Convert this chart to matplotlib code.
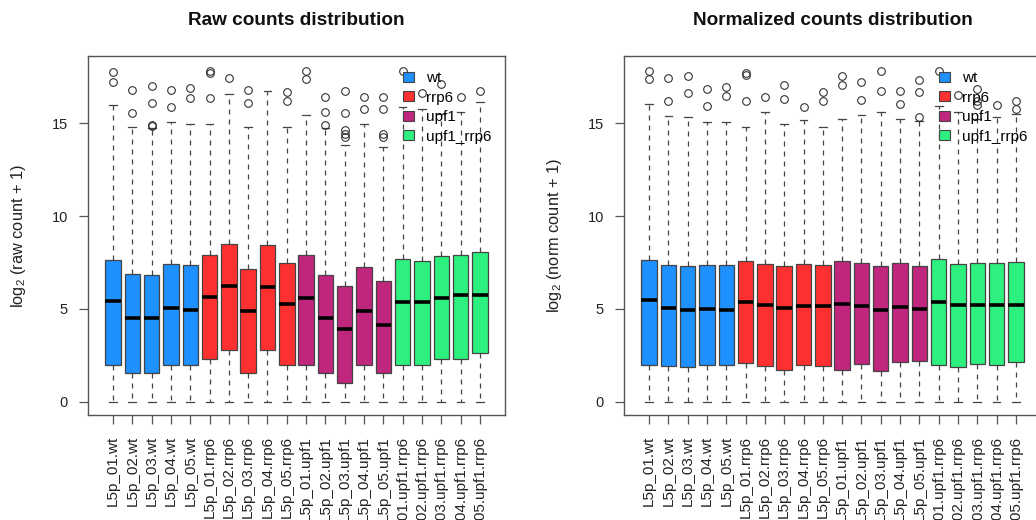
import matplotlib
matplotlib.use("Agg")
import matplotlib.pyplot as plt
from matplotlib.patches import Patch

plt.rcParams['font.family'] = ['Liberation Sans', 'DejaVu Sans']
plt.rcParams['mathtext.fontset'] = 'custom'
plt.rcParams['mathtext.rm'] = 'Liberation Sans'
plt.rcParams['mathtext.it'] = 'Liberation Sans:italic'

# sample layout: 5 replicates per condition
conditions = ['wt', 'rrp6', 'upf1', 'upf1_rrp6']
cond_colors = ['#1E90FF', '#FF3030', '#C0267E', '#2EF07F']
reps = ['01', '02', '03', '04', '05']
sample_names = ([f'L5p_{r}.wt' for r in reps] + [f'L5p_{r}.rrp6' for r in reps]
                + [f'L5p_{r}.upf1' for r in reps] + [f'L5p_{r}.upf1.rrp6' for r in reps])

# raw counts, log2(x + 1)
raw_q1 = [2.0, 1.56, 1.56, 2.0, 2.0, 2.29, 2.78, 1.56, 2.78, 2.0,
          2.0, 1.56, 0.99, 2.0, 1.56, 2.0, 2.0, 2.29, 2.29, 2.6]
raw_med = [5.43, 4.52, 4.52, 5.05, 4.95, 5.63, 6.25, 4.89, 6.18, 5.27,
           5.61, 4.52, 3.89, 4.89, 4.14, 5.38, 5.38, 5.61, 5.72, 5.77]
raw_q3 = [7.62, 6.86, 6.83, 7.4, 7.35, 7.9, 8.51, 7.15, 8.42, 7.49,
          7.9, 6.81, 6.22, 7.26, 6.49, 7.71, 7.58, 7.83, 7.92, 8.05]
raw_whislo = [0] * 20
raw_whishi = [16.0, 14.82, 14.75, 15.05, 14.97, 14.97, 16.58, 14.79, 16.76, 14.82,
              15.45, 14.75, 13.8, 14.97, 13.71, 15.86, 15.77, 15.5, 15.6, 16.13]
raw_fliers = [[17.24, 17.74], [15.54, 16.8], [14.84, 14.9, 16.1, 17.03], [15.86, 16.8], [16.35, 16.9],
              [16.35, 17.72, 17.83], [17.42], [16.08, 16.8], [], [16.18, 16.67],
              [17.39, 17.83], [14.88, 15.6, 16.4], [14.25, 14.43, 14.61, 15.56, 16.76], [15.77, 16.4],
              [14.25, 14.43, 15.77, 16.4],
              [17.83], [16.63], [17.12], [16.4], [16.76]]

# normalized counts, log2(x + 1)
norm_q1 = [2.0, 1.93, 1.88, 1.96, 2.0, 2.07, 1.93, 1.7, 1.98, 1.91,
           1.73, 2.02, 1.64, 2.13, 2.18, 2.0, 1.88, 2.02, 1.95, 2.14]
norm_med = [5.45, 5.04, 4.95, 5.0, 4.96, 5.36, 5.18, 5.05, 5.16, 5.14,
            5.25, 5.13, 4.96, 5.09, 4.98, 5.38, 5.21, 5.23, 5.21, 5.21]
norm_q3 = [7.64, 7.38, 7.29, 7.36, 7.34, 7.59, 7.39, 7.3, 7.39, 7.36,
           7.55, 7.45, 7.3, 7.45, 7.3, 7.7, 7.41, 7.46, 7.45, 7.5]
norm_whislo = [0] * 20
norm_whishi = [16.04, 15.38, 15.35, 15.09, 15.09, 14.82, 15.63, 14.97, 15.18, 14.82,
               15.24, 15.45, 15.63, 15.24, 15.1, 15.9, 15.6, 15.24, 15.35, 15.5]
norm_fliers = [[17.39, 17.83], [16.17, 17.42], [16.61, 17.56], [15.95, 16.85], [16.49, 16.97],
               [16.17, 17.6, 17.7], [16.4], [16.31, 17.06], [15.86], [16.17, 16.67],
               [17.06, 17.56], [16.27, 17.2], [16.76, 17.83], [16.04, 16.76], [15.33, 16.67, 17.35],
               [17.83], [16.54], [16.0, 16.2, 16.85], [15.99], [15.77, 16.22]]

fig = plt.figure(figsize=(10.36, 5.2), dpi=100)
ax_raw = fig.add_axes([0.0849, 0.2019, 0.4025, 0.6904])
ax_norm = fig.add_axes([0.6023, 0.2019, 0.4025, 0.6904])


def draw_panel(ax, q1, med, q3, wlo, whi, fliers, title, ylab):
    stats = []
    for i in range(len(med)):
        stats.append(dict(q1=q1[i], med=med[i], q3=q3[i], whislo=wlo[i],
                          whishi=whi[i], fliers=fliers[i]))
    pos = list(range(1, len(stats) + 1))
    bp = ax.bxp(stats, positions=pos, widths=0.8, capwidths=0.4, patch_artist=True,
                boxprops=dict(edgecolor='#444444', linewidth=0.9),
                medianprops=dict(color='black', linewidth=2.6, solid_capstyle='butt'),
                whiskerprops=dict(color='#444444', linewidth=0.9, linestyle=(0, (4, 4))),
                capprops=dict(color='#444444', linewidth=0.9),
                flierprops=dict(marker='o', markersize=5.5, markerfacecolor='none',
                                markeredgecolor='#333333', markeredgewidth=0.8))
    for i, box in enumerate(bp['boxes']):
        box.set_facecolor(cond_colors[i // 5])

    ax.set_xlim(-0.3, 21.3)
    ax.set_ylim(-0.72, 18.62)
    ax.set_yticks([0, 5, 10, 15])
    ax.set_xticks(pos)
    ax.set_xticklabels(sample_names, rotation=90, va='top', ha='center')
    ax.tick_params(axis='both', colors='#555555', labelcolor='#222222',
                   labelsize=10.5, length=6.5, width=0.9)
    ax.tick_params(axis='x', pad=8.5, labelsize=11)
    ax.tick_params(axis='y', pad=8)
    for s in ax.spines.values():
        s.set_color('#555555')
        s.set_linewidth(1.0)

    ax.set_ylabel(ylab, fontsize=11.8, color='#222222')
    ax.yaxis.set_label_coords(-0.143, 0.5)
    ax.text(0.5, 1.0 + 31 / 359, title, transform=ax.transAxes, ha='center',
            va='baseline', fontsize=13.7, fontweight='bold', color='#111111')

    handles = [Patch(facecolor=c, edgecolor='#444444', linewidth=0.8) for c in cond_colors]
    ax.legend(handles, conditions, loc='upper left', bbox_to_anchor=(0.755, 0.958),
              frameon=False, fontsize=11, handlelength=0.75, handleheight=0.65,
              handletextpad=0.8, labelspacing=0.36, borderpad=0, borderaxespad=0)


draw_panel(ax_raw, raw_q1, raw_med, raw_q3, raw_whislo, raw_whishi, raw_fliers,
           'Raw counts distribution', r'log$_2$ (raw count + 1)')
draw_panel(ax_norm, norm_q1, norm_med, norm_q3, norm_whislo, norm_whishi, norm_fliers,
           'Normalized counts distribution', r'log$_2$ (norm count + 1)')

fig.savefig('out.png', dpi=100)
